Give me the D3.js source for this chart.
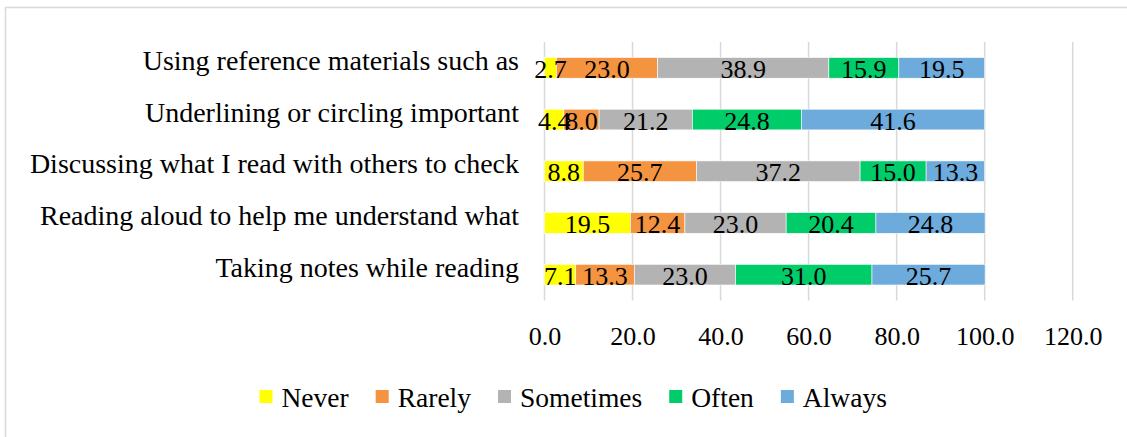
<!DOCTYPE html>
<html>
<head>
<meta charset="utf-8">
<script src="https://cdn.jsdelivr.net/npm/d3@7"></script>
<style>
  body { margin: 0; background: #fff; }
</style>
</head>
<body>
<div class="chart"></div>
<script>
var svgWidth = 1127;
var svgHeight = 437;
var fontFam = "'Liberation Serif', 'Times New Roman', Times, serif";

// data
var categories = [
    "Using reference materials such as",
    "Underlining or circling important",
    "Discussing what I read with others to check",
    "Reading aloud to help me understand what",
    "Taking notes while reading"
];
var seriesNames = ["Never", "Rarely", "Sometimes", "Often", "Always"];
var never     = [2.7, 4.4, 8.8, 19.5, 7.1];
var rarely    = [23.0, 8.0, 25.7, 12.4, 13.3];
var sometimes = [38.9, 21.2, 37.2, 23.0, 23.0];
var often     = [15.9, 24.8, 15.0, 20.4, 31.0];
var always    = [19.5, 41.6, 13.3, 24.8, 25.7];
var xTicks = [0, 20, 40, 60, 80, 100, 120];

var colors = ["#ffff00", "#f59440", "#b3b3b3", "#00cc6a", "#6dabdc"];

var rows = categories.map(function(c, i) {
    return {cat: c, Never: never[i], Rarely: rarely[i], Sometimes: sometimes[i], Often: often[i], Always: always[i]};
});

var svg = d3.select(".chart")
    .append("svg")
    .attr("width", svgWidth)
    .attr("height", svgHeight)
    .attr("font-family", fontFam)
    .attr("font-size", 26);

// outer border
svg.append("rect")
    .attr("x", 5.5)
    .attr("y", 7.5)
    .attr("width", 1140)
    .attr("height", 450)
    .attr("fill", "none")
    .attr("stroke", "#d9d9d9")
    .attr("stroke-width", 1.5);

var x = d3.scaleLinear().domain([0, 120]).range([544.5, 1072.7]);
var y = d3.scaleBand().domain(categories).range([42, 300.5])
    .paddingInner(0.6).paddingOuter(0.3);

// gridlines
svg.append("g")
    .selectAll("line")
    .data(xTicks)
    .enter()
    .append("line")
    .attr("x1", function(d) { return x(d); })
    .attr("x2", function(d) { return x(d); })
    .attr("y1", 42)
    .attr("y2", 300.5)
    .attr("stroke", "#d9d9d9")
    .attr("stroke-width", 1.5);

// x axis labels
var bottomAxis = d3.axisBottom(x).tickValues(xTicks).tickSize(0).tickPadding(0)
    .tickFormat(d3.format(".1f"));
var xg = svg.append("g")
    .attr("transform", "translate(0,325)")
    .call(bottomAxis)
    .attr("font-family", fontFam)
    .attr("font-size", 26);
xg.select(".domain").remove();
xg.selectAll("text")
    .attr("dy", 0)
    .attr("y", 20)
    .attr("fill", "#000");

// category labels
svg.append("g")
    .selectAll("text")
    .data(categories)
    .enter()
    .append("text")
    .attr("x", 519)
    .attr("y", function(d) { return y(d) + y.bandwidth() / 2 + 2; })
    .attr("text-anchor", "end")
    .attr("font-size", 28)
    .text(function(d) { return d; });

var stacked = d3.stack().keys(seriesNames)(rows);

var layers = svg.append("g")
    .selectAll("g")
    .data(stacked)
    .enter()
    .append("g")
    .attr("fill", function(d, i) { return colors[i]; });

layers.selectAll("rect")
    .data(function(d) { return d; })
    .enter()
    .append("rect")
    .attr("x", function(d) { return x(d[0]); })
    .attr("y", function(d) { return y(d.data.cat); })
    .attr("width", function(d) { return x(d[1]) - x(d[0]); })
    .attr("height", y.bandwidth())
    .attr("stroke", "#fff")
    .attr("stroke-width", 0.6);

// data labels
var labels = svg.append("g");
stacked.forEach(function(layer) {
    labels.selectAll(null)
        .data(layer)
        .enter()
        .append("text")
        .attr("x", function(d) { return (x(d[0]) + x(d[1])) / 2; })
        .attr("y", function(d) { return y(d.data.cat) + y.bandwidth() / 2 + 10; })
        .attr("text-anchor", "middle")
        .text(function(d) { return d3.format(".1f")(d[1] - d[0]); });
});

// legend
var legend = svg.append("g");
var lx = 259.5;
seriesNames.forEach(function(name, i) {
    var item = legend.append("g");
    item.append("rect")
        .attr("x", lx)
        .attr("y", 390)
        .attr("width", 13)
        .attr("height", 13)
        .attr("fill", colors[i]);
    var t = item.append("text")
        .attr("x", lx + 22)
        .attr("y", 407)
        .attr("font-size", 27.5)
        .text(name);
    lx = lx + 22 + t.node().getComputedTextLength() + 27;
});
</script>
</body>
</html>
